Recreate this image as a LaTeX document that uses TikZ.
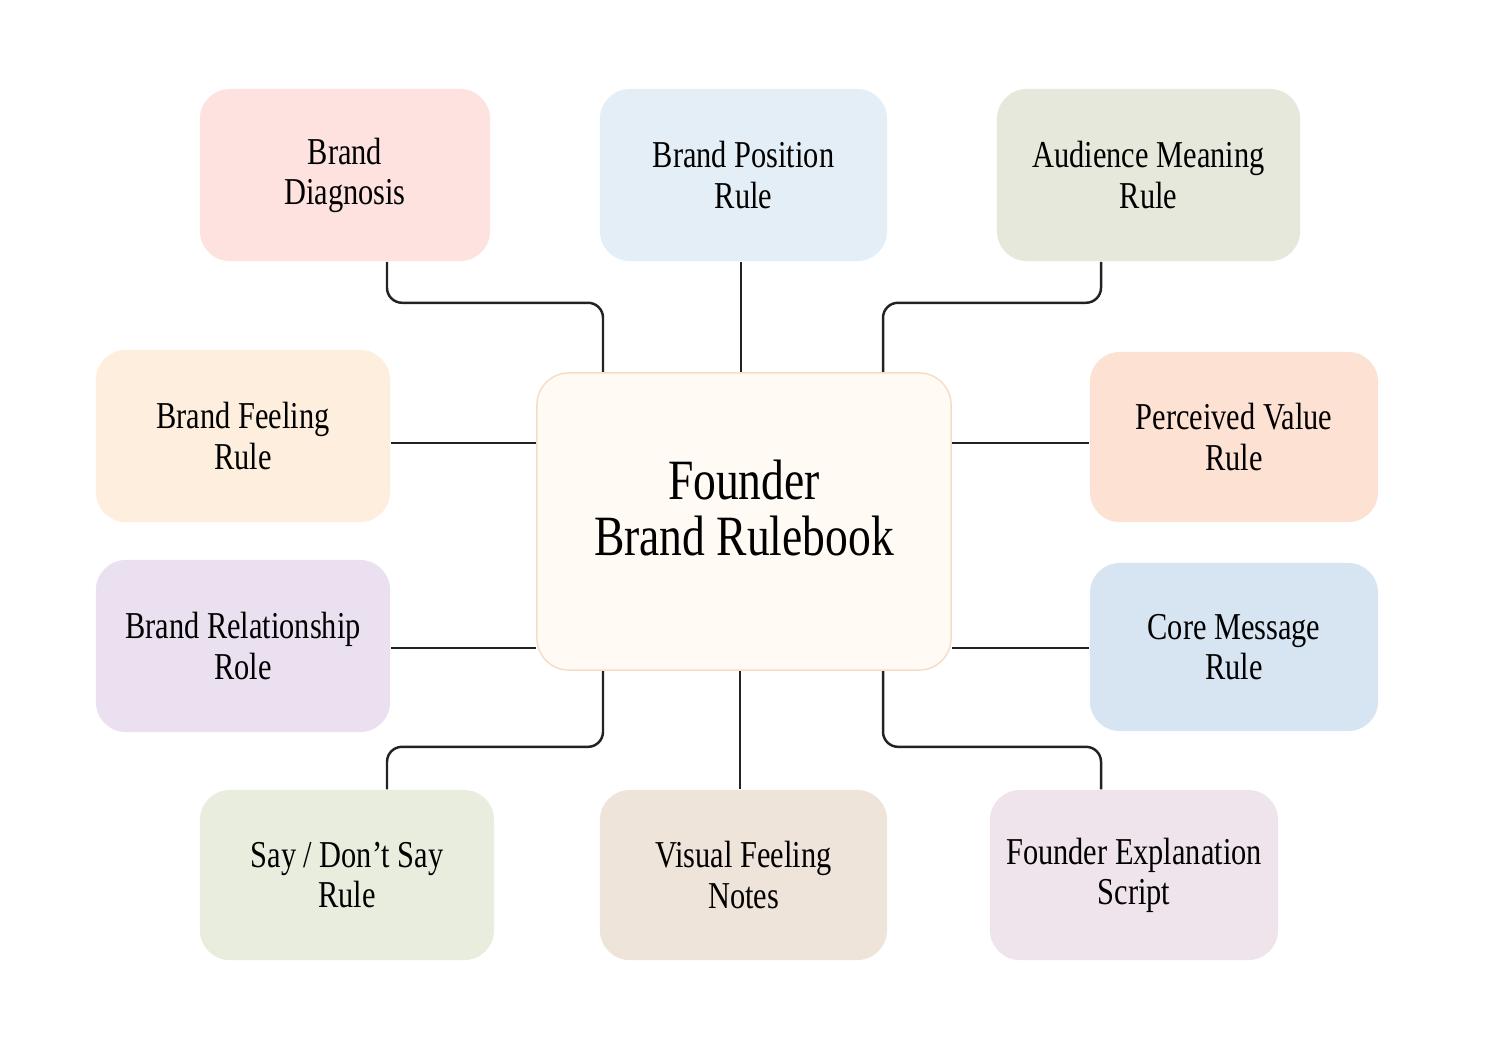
\documentclass[tikz,border=0pt]{standalone}
\usepackage{fontspec}
\setmainfont{Liberation Serif}[FakeStretch=0.8]
\usetikzlibrary{positioning,calc,backgrounds}

\definecolor{diagfill}{HTML}{FDE2DF}
\definecolor{posfill}{HTML}{E4EEF6}
\definecolor{audfill}{HTML}{E5E8DA}
\definecolor{feelfill}{HTML}{FDEEDD}
\definecolor{valuefill}{HTML}{FDE1D3}
\definecolor{relfill}{HTML}{EBE0EF}
\definecolor{corefill}{HTML}{D6E5F1}
\definecolor{sayfill}{HTML}{E8EDDD}
\definecolor{visfill}{HTML}{EFE4DA}
\definecolor{explfill}{HTML}{F0E4EC}
\definecolor{hubfill}{HTML}{FFFAF4}
\definecolor{hubline}{HTML}{F5DCC6}
\definecolor{linkcol}{HTML}{222222}

\tikzset{
    rulebox/.style={rounded corners=0.3cm, align=center, minimum width=2.9cm,
        minimum height=1.72cm, font=\fontsize{10.8}{11.4}\selectfont},
    link/.style={draw=linkcol, line width=0.7pt, rounded corners=0.15cm}
}

\begin{document}
\begin{tikzpicture}[x=0.01cm, y=-0.01cm]
        % Page
        \useasboundingbox (0,0) rectangle (1498,1050);

        % Centre box
        \node[draw=hubline, fill=hubfill, rounded corners=0.32cm, align=center,
              minimum width=4.14cm, minimum height=2.97cm,
              font=\fontsize{16.2}{16}\selectfont] (hub) at (744,521.5)
              {Founder\\Brand Rulebook\\[-8pt]};

        % Top row
        \node[rulebox, fill=diagfill] (diag) at (345,175) {Brand\\Diagnosis};
        \node[rulebox, fill=posfill, minimum width=2.87cm] (pos) at (743.5,175) {Brand Position\\Rule};
        \node[rulebox, fill=audfill, minimum width=3.03cm] (aud) at (1148.5,175) {Audience Meaning\\Rule};

        % Sides
        \node[rulebox, fill=feelfill, minimum width=2.94cm] (feel) at (243,436) {Brand Feeling\\Rule};
        \node[rulebox, fill=valuefill, minimum width=2.88cm, minimum height=1.7cm] (value) at (1234,437) {Perceived Value\\Rule};
        \node[rulebox, fill=relfill, minimum width=2.94cm] (rel) at (243,646) {Brand Relationship\\Role};
        \node[rulebox, fill=corefill, minimum width=2.88cm, minimum height=1.68cm] (core) at (1234,647) {Core Message\\Rule};

        % Bottom row
        \node[rulebox, fill=sayfill, minimum width=2.94cm, minimum height=1.7cm] (say) at (347,875) {Say / Don’t Say\\Rule};
        \node[rulebox, fill=visfill, minimum width=2.87cm, minimum height=1.7cm] (vis) at (743.5,875) {Visual Feeling\\Notes};
        \node[rulebox, fill=explfill, minimum width=2.88cm, minimum height=1.7cm] (expl) at (1134,875) {Founder Explanation\\Script};

        % Connectors (behind the boxes)
        \begin{scope}[on background layer]
            \fill[white] (0,0) rectangle (1498,1050);
            \draw[link] ($(diag.south)+(42,0)$) -- ++(0,41) -| ($(hub.north)+(-141,0)$);
            \draw[link] ($(pos.south)+(-2.5,0)$) -- ($(hub.north)+(-3,0)$);
            \draw[link] ($(aud.south)+(-47.5,0)$) -- ++(0,41) -| ($(hub.north)+(139,0)$);
            \draw[link] ($(feel.east)+(0,7)$) -- ($(hub.west)+(0,-78.5)$);
            \draw[link] ($(value.west)+(0,6)$) -- ($(hub.east)+(0,-78.5)$);
            \draw[link] ($(rel.east)+(0,2)$) -- ($(hub.west)+(0,126.5)$);
            \draw[link] ($(core.west)+(0,1)$) -- ($(hub.east)+(0,126.5)$);
            \draw[link] ($(hub.south)+(-141,0)$) -- ++(0,76) -| ($(say.north)+(40,0)$);
            \draw[link] ($(hub.south)+(-4,0)$) -- ($(vis.north)+(-3.5,0)$);
            \draw[link] ($(hub.south)+(139,0)$) -- ++(0,76) -| ($(expl.north)+(-33,0)$);
        \end{scope}
    \end{tikzpicture}
\end{document}
